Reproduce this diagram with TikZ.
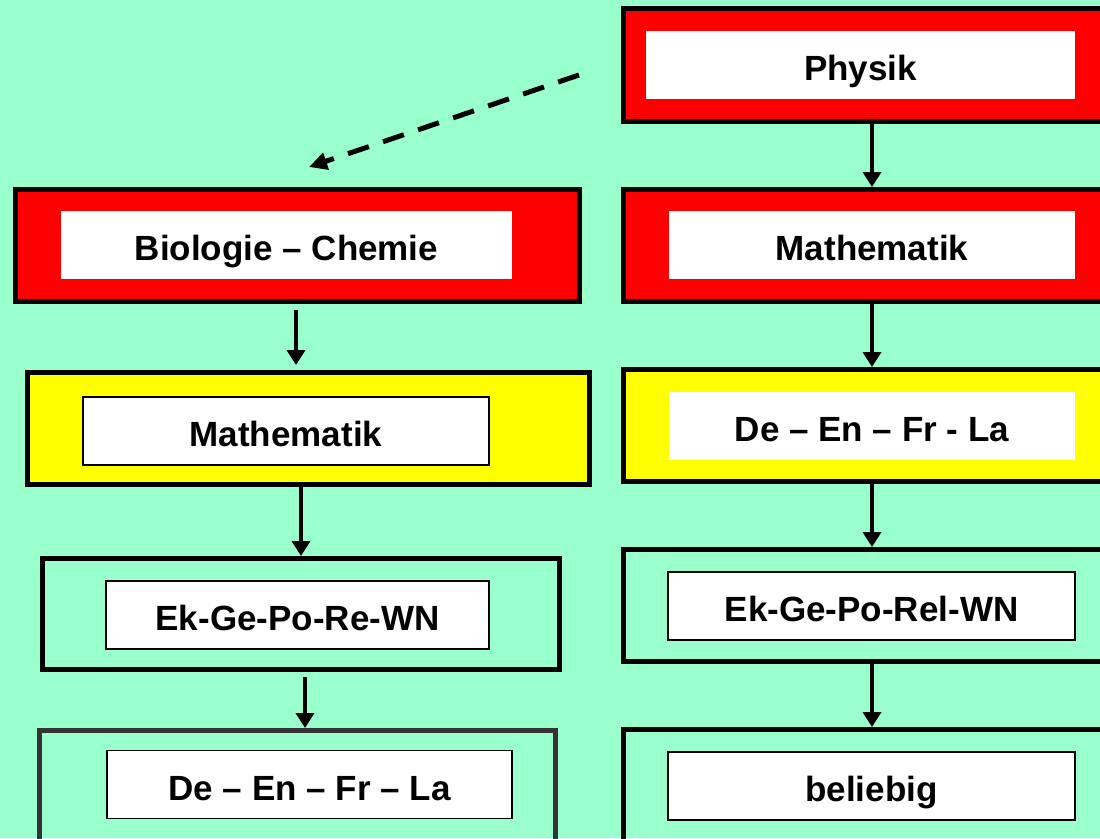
\documentclass[tikz,border=0pt]{standalone}
\usepackage{fontspec}
\setmainfont{Liberation Sans}
\usepackage{xcolor}
\usetikzlibrary{arrows.meta,positioning,calc}
\definecolor{mint}{HTML}{99FFCC}
\definecolor{rot}{HTML}{FF0000}
\definecolor{gelb}{HTML}{FFFF00}
\definecolor{dunkel}{HTML}{333333}

\begin{document}
\begin{tikzpicture}[x=1pt,y=-1pt,
  font=\fontsize{35}{40}\selectfont\bfseries,
  rahmen/.style={draw,line width=5pt,minimum width=564pt,minimum height=112pt,inner sep=0pt},
  fach/.style={fill=white,minimum height=68pt,inner sep=0pt,text height=31pt,text depth=0pt},
  fachlinie/.style={fach,draw,line width=1.2pt},
  pfeil/.style={line width=4pt,-{Triangle[width=18pt,length=15pt]}}]
\useasboundingbox (0,0) rectangle (1100,838);
\fill[mint] (0,0) rectangle (1100,838);
\clip (0,0) rectangle (1100,838);

% linke Spalte
\node[rahmen,fill=rot] (biobox) at (297.5,245.5) {};
\node[fach,minimum width=451pt] (bio) at (286.5,245) {Biologie – Chemie};
\node[rahmen,fill=gelb,minimum width=562pt] (mathe1box) at (308.5,428.5) {};
\node[fachlinie,minimum width=406pt] (mathe1) at (286,431) {Mathematik};
\node[rahmen,minimum width=517pt,minimum height=111pt] (ek1box) at (301,614) {};
\node[fachlinie,minimum width=383pt] (ek1) at (297.5,615) {Ek-Ge-Po-Re-WN};
\node[rahmen,draw=dunkel,minimum width=516pt] (de1box) at (297.5,786.5) {};
\node[fachlinie,minimum width=405pt] (de1) at (309.5,784.5) {De – En – Fr – La};

% rechte Spalte
\node[rahmen,fill=rot,minimum height=113pt] (physbox) at (905.5,65) {};
\node[fach,minimum width=429pt] (phys) at (860.5,65) {Physik};
\node[rahmen,fill=rot] (mathe2box) at (905.5,245.5) {};
\node[fach,minimum width=406pt] (mathe2) at (872,245) {Mathematik};
\node[rahmen,fill=gelb] (de2box) at (905.5,425.5) {};
\node[fach,minimum width=406pt] (de2) at (872,426) {De – En – Fr - La};
\node[rahmen] (ek2box) at (905.5,605.5) {};
\node[fachlinie,minimum width=407pt] (ek2) at (871.5,606) {Ek-Ge-Po-Rel-WN};
\node[rahmen] (belbox) at (905.5,785.5) {};
\node[fachlinie,minimum width=407pt] (bel) at (871.5,786) {beliebig};

% Pfeile
\draw[pfeil] (physbox.south -| mathe2) -- (mathe2box.north -| mathe2);
\draw[pfeil] (mathe2box.south -| mathe2) -- (de2box.north -| mathe2);
\draw[pfeil] (de2box.south -| mathe2) -- (ek2box.north -| mathe2);
\draw[pfeil] (ek2box.south -| mathe2) -- (belbox.north -| mathe2);
\draw[pfeil] ([xshift=-1.5pt,yshift=-6pt]biobox.south) -- ([xshift=-1.5pt,yshift=5pt]biobox.south |- mathe1box.north);
\draw[pfeil] (mathe1box.south -| ek1box) -- (ek1box.north);
\draw[pfeil] ([xshift=4pt,yshift=-5pt]ek1box.south) -- ([xshift=4pt]ek1box.south |- de1box.north);

\coordinate (dstart) at (579,75);
\coordinate (dziel) at (309,167);
\draw[line width=5pt,dash pattern=on 22pt off 15pt,-{Triangle[width=17pt,length=18pt]}] (dstart) -- (dziel);
\end{tikzpicture}
\end{document}
